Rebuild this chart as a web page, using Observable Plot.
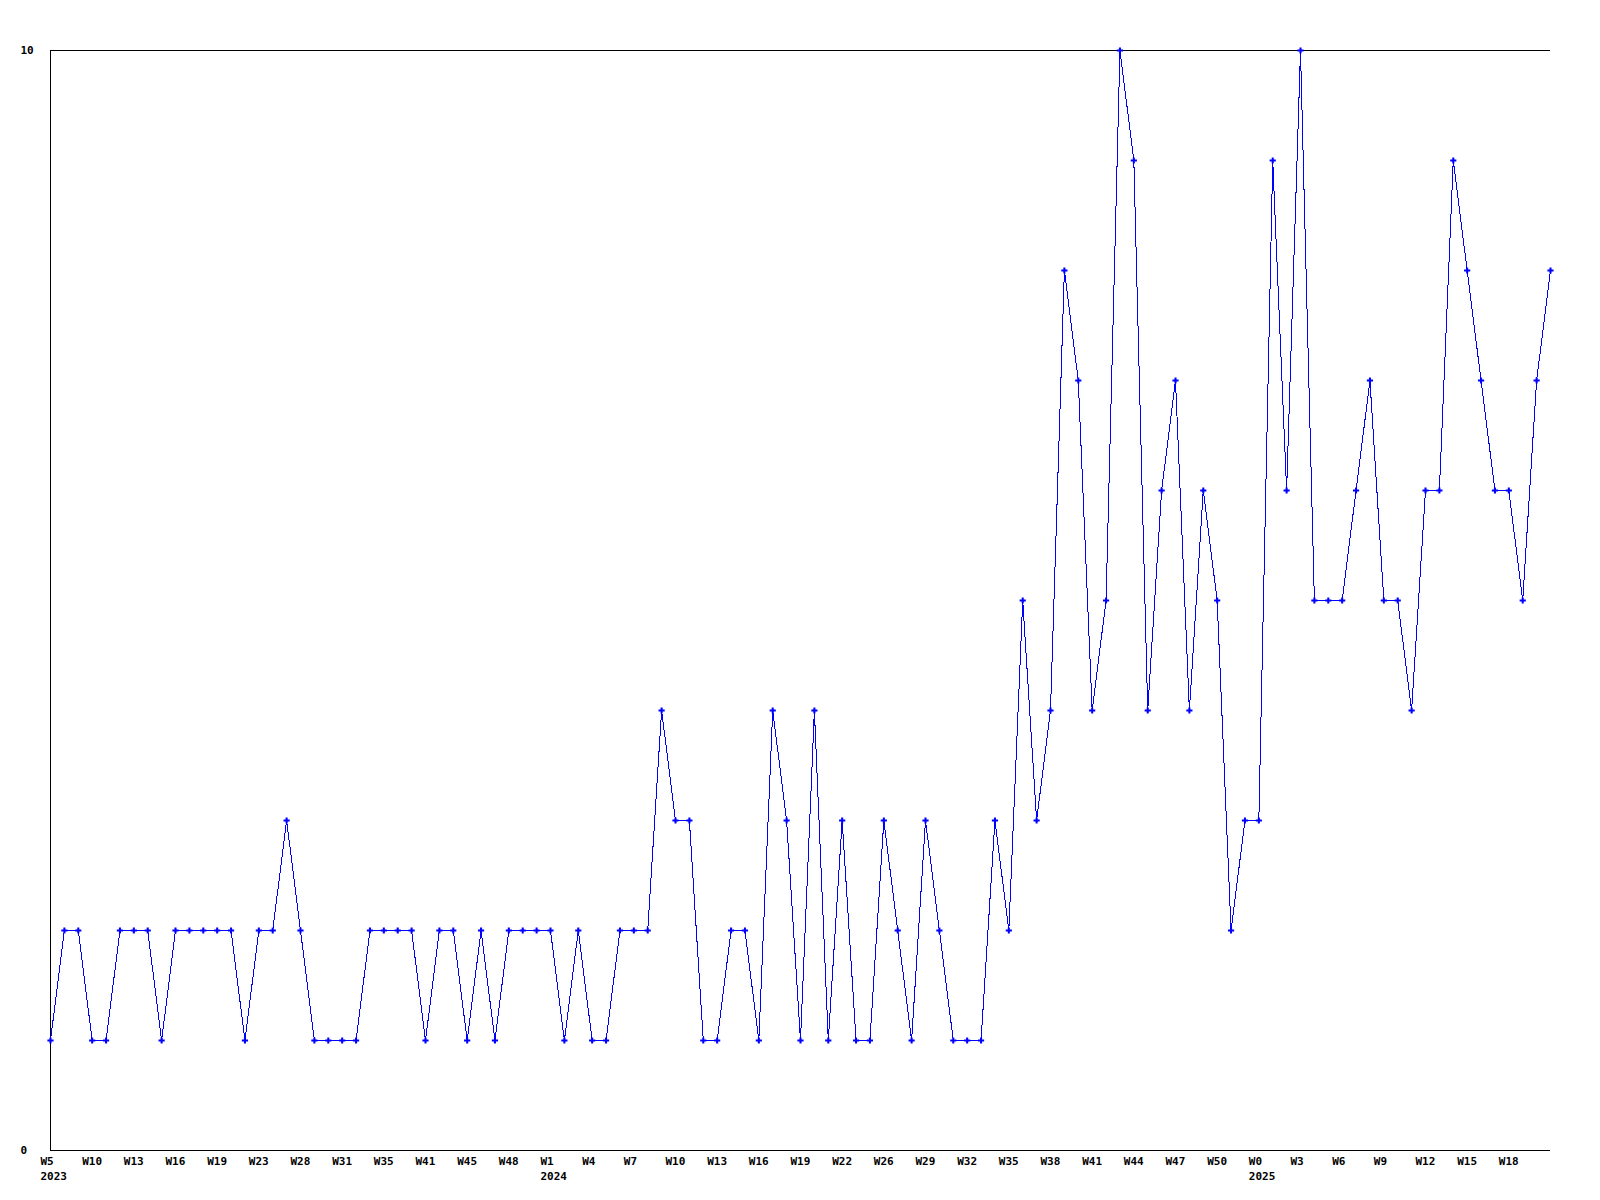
<!DOCTYPE html>
<html>
<head>
<meta charset="utf-8">
<script src="https://cdn.jsdelivr.net/npm/d3@7"></script>
<script src="https://cdn.jsdelivr.net/npm/@observablehq/plot@0.6"></script>
<style>
  html, body { margin: 0; padding: 0; background: #fff; }
  #chart svg { display: block; }
</style>
</head>
<body>
<div id="chart"></div>
<script>
// Years and week numbers of each sample (only weeks that have data)
const years = [
  ...Array(36).fill(2023),
  ...Array(51).fill(2024),
  ...Array(22).fill(2025)
];
const weeks = [
  // 2023
  5, 6, 8, 10, 11, 12, 13, 14, 15, 16, 17, 18, 19, 20, 22, 23, 25, 26, 28, 29, 30, 31, 32, 34, 35, 37, 39, 41, 42, 44, 45, 46, 47, 48, 50, 51,
  // 2024
  1, 2, 3, 4, 5, 6, 7, 8, 9, 10, 11, 12, 13, 14, 15, 16, 17, 18, 19, 20, 21, 22, 23, 25, 26, 27, 28, 29, 30, 31, 32, 33, 34, 35, 36, 37, 38, 39, 40, 41, 42, 43, 44, 45, 46, 47, 48, 49, 50, 51, 52,
  // 2025
  0, 1, 2, 3, 4, 5, 6, 7, 8, 9, 10, 11, 12, 13, 14, 15, 16, 17, 18, 19, 20, 21
];
const counts = [
  1, 2, 2, 1, 1, 2, 2, 2, 1, 2, 2, 2, 2, 2, 1, 2, 2, 3, 2, 1, 1, 1, 1, 2, 2, 2, 2, 1,
  2, 2, 1, 2, 1, 2, 2, 2, 2, 1, 2, 1, 1, 2, 2, 2, 4, 3, 3, 1, 1, 2, 2, 1, 4, 3, 1,
  4, 1, 3, 1, 1, 3, 2, 1, 3, 2, 1, 1, 1, 3, 2, 5, 3, 4,
  8, 7, 4, 5, 10, 9, 4, 6, 7, 4, 6, 5, 2, 3, 3, 9, 6, 10,
  5, 5, 5, 6, 7, 5, 5, 4, 6, 6, 9, 8, 7, 6, 6, 5, 7, 8
];
const yTicks = [0, 10];

const keys = weeks.map((w, i) => `${years[i]}-W${String(w).padStart(2, "0")}`);
const data = keys.map((k, i) => ({key: k, year: years[i], week: weeks[i], value: counts[i]}));

// a label every third sample, except the very last sample
const tickKeys = keys.filter((k, i) => i % 3 === 0 && i < keys.length - 1);
const firstOfYear = new Set(years.map((y, i) => (i === 0 || years[i - 1] !== y) ? keys[i] : null).filter(Boolean));
const labelOf = new Map(data.map(d => [d.key, `W${d.week}` + (firstOfYear.has(d.key) ? `\n${d.year}` : "")]));

const font = "'DejaVu Sans Mono', monospace";

const chart = Plot.plot({
  width: 1600,
  height: 1200,
  marginLeft: 50,
  marginRight: 50,
  marginTop: 50,
  marginBottom: 50,
  style: {fontFamily: font, fontSize: "11px", fontWeight: "bold", background: "#fff", color: "#000"},
  x: {type: "point", domain: keys, padding: 0},
  y: {domain: [0, 10]},
  marks: [
    Plot.ruleY([0, 10], {stroke: "#000", strokeWidth: 1, shapeRendering: "crispEdges"}),
    Plot.ruleX([keys[0]], {y1: 0, y2: 10, stroke: "#000", strokeWidth: 1, shapeRendering: "crispEdges"}),
    Plot.line(data, {x: "key", y: "value", stroke: "#0000ff", strokeWidth: 1, shapeRendering: "crispEdges"}),
    Plot.dot(data, {x: "key", y: "value", symbol: "cross", r: 2.6, fill: "#0000ff", stroke: "none"}),
    Plot.axisX({
      ticks: tickKeys,
      tickSize: 0,
      tickPadding: 4,
      textAnchor: "start",
      dx: -10,
      lineHeight: 1.38,
      tickFormat: k => labelOf.get(k),
      label: null,
      fill: "#000"
    }),
    Plot.axisY({
      ticks: yTicks,
      tickSize: 0,
      tickPadding: 30,
      textAnchor: "start",
      label: null,
      fill: "#000"
    })
  ]
});
document.getElementById("chart").appendChild(chart);
</script>
</body>
</html>
